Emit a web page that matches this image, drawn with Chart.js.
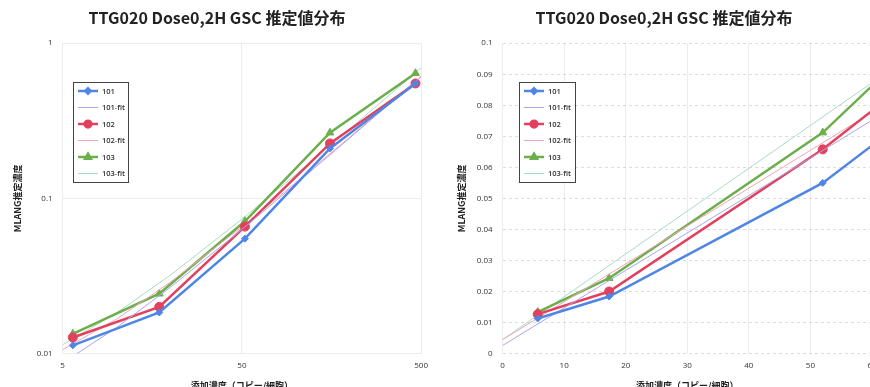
<!DOCTYPE html>
<html>
<head>
<meta charset="utf-8">
<script src="https://cdn.jsdelivr.net/npm/chart.js@4.4.1/dist/chart.umd.min.js"></script>
<style>
html, body { margin: 0; padding: 0; background: #fff; overflow: hidden; width: 870px; height: 387px; }
.panel { position: absolute; top: 0; height: 395px; }
#logPanel { left: 0; width: 435px; }
#linPanel { left: 435px; width: 460px; }
</style>
</head>
<body>
<div class="panel" id="logPanel"><canvas id="logChart"></canvas></div>
<div class="panel" id="linPanel"><canvas id="linChart"></canvas></div>
<script>
// measured concentrations per sample
const doses = [5.7, 17.3, 52, 155, 465];
const s101 = [0.0113, 0.0184, 0.055, 0.21, 0.55];
const s102 = [0.0127, 0.0200, 0.0658, 0.226, 0.55];
const s103 = [0.0134, 0.0243, 0.0712, 0.265, 0.64];

// fitted lines, sampled along the dose axis
const fitDoses = [0, 5, 10, 20, 50, 100, 200, 500];
const fit101 = [0.0026, 0.0087, 0.0147, 0.0268, 0.063, 0.124, 0.245, 0.608];
const fit102 = [0.0045, 0.0106, 0.0167, 0.0289, 0.0655, 0.1265, 0.2485, 0.6145];
const fit103 = [0.0045, 0.0114, 0.0183, 0.0321, 0.0735, 0.1425, 0.2805, 0.6945];

const logXTicks = [5, 50, 500];
const logYTicks = [0.01, 0.1, 1];

const titleText = 'TTG020 Dose0,2H GSC 推定値分布';
const xTitle = '添加濃度（コピー/細胞）';
const yTitle = 'MLANG推定濃度';

const CJK = '"Noto Sans CJK JP", "Open Sans", sans-serif';
const tickFont = { family: '"Open Sans", sans-serif', size: 8 };

function pts(xs, ys, skipZero) {
    const out = [];
    xs.forEach((x, i) => {
        if (skipZero && x <= 0) return;
        out.push({ x: x, y: ys[i] });
    });
    return out;
}

function buildDatasets(isLog) {
    const main = (label, ys, color, style, r) => ({
        label: label,
        data: pts(doses, ys, isLog),
        borderColor: color,
        backgroundColor: color,
        borderWidth: 2.5,
        pointStyle: style,
        pointRadius: r,
        pointBorderWidth: 1,
        tension: 0
    });
    const fit = (label, ys, color) => ({
        label: label,
        data: pts(fitDoses, ys, isLog),
        borderColor: color,
        backgroundColor: color,
        borderWidth: 1,
        pointRadius: 0,
        tension: 0
    });
    return [
        main('101', s101, '#4f86e6', 'rectRot', 3.5),
        fit('101-fit', fit101, '#a9a6e6'),
        main('102', s102, '#e2405c', 'circle', 4.5),
        fit('102-fit', fit102, '#f0a4b8'),
        main('103', s103, '#6cae4c', 'triangle', 4.5),
        fit('103-fit', fit103, '#a8dcc0')
    ];
}

// boxed legend drawn inside the plot area
const boxLegend = {
    id: 'boxLegend',
    afterDatasetsDraw(chart, args, opts) {
        const ctx = chart.ctx;
        const x0 = Math.round(chart.chartArea.left + opts.offsetX);
        const y0 = Math.round(chart.chartArea.top + opts.offsetY);
        const rowH = 16.5;
        const h = rowH * 6 + 1;
        ctx.save();
        ctx.fillStyle = '#fff';
        ctx.fillRect(x0, y0, opts.width, h);
        ctx.strokeStyle = '#444';
        ctx.lineWidth = 1;
        ctx.strokeRect(x0 + 0.5, y0 + 0.5, opts.width, h);
        chart.data.datasets.forEach((ds, i) => {
            const cy = y0 + 9 + i * rowH;
            ctx.strokeStyle = ds.borderColor;
            ctx.fillStyle = ds.borderColor;
            ctx.lineWidth = ds.borderWidth;
            ctx.beginPath();
            ctx.moveTo(x0 + 5, cy);
            ctx.lineTo(x0 + 25, cy);
            ctx.stroke();
            if (ds.pointRadius > 0) {
                Chart.helpers.drawPoint(ctx, {
                    pointStyle: ds.pointStyle, radius: ds.pointRadius * 0.75,
                    borderWidth: 1, rotation: 0
                }, x0 + 15, cy);
            }
            ctx.fillStyle = '#333';
            ctx.font = '600 7.5px "Open Sans", sans-serif';
            ctx.textBaseline = 'middle';
            ctx.fillText(ds.label, x0 + 29, cy + 0.5);
        });
        ctx.restore();
    }
};

const gridStyle = {
    color: 'rgba(150,150,170,0.18)',
    drawTicks: false,
    lineWidth: 1
};

function commonOptions(legendOffsetX, legendWidth) {
    return {
        responsive: true,
        maintainAspectRatio: false,
        animation: false,
        layout: { padding: { left: 8, right: 0, top: 0, bottom: 0 } },
        plugins: {
            legend: { display: false },
            tooltip: { enabled: false },
            title: {
                display: true,
                text: titleText,
                color: '#222',
                font: { family: CJK, size: 16, weight: 'bold' },
                padding: { top: 8, bottom: 16 }
            },
            boxLegend: { offsetX: legendOffsetX, offsetY: 39, width: legendWidth }
        }
    };
}

function axisTitle(text, pad) {
    return {
        display: true,
        text: text,
        color: '#222',
        font: { family: CJK, size: 9, weight: 'bold' },
        padding: pad
    };
}

// log-log panel
const logOpts = commonOptions(10, 55);
logOpts.layout.padding.left = 12;
logOpts.layout.padding.right = 13;
logOpts.scales = {
    x: {
        type: 'logarithmic',
        min: 5, max: 500,
        grid: gridStyle,
        border: { display: false },
        afterBuildTicks: (s) => { s.ticks = logXTicks.map(v => ({ value: v })); },
        ticks: { color: '#333', font: tickFont, padding: 7, callback: (v) => String(v) },
        title: axisTitle(xTitle, { top: 3, bottom: 4 })
    },
    y: {
        type: 'logarithmic',
        min: 0.01, max: 1,
        grid: gridStyle,
        border: { display: false },
        afterBuildTicks: (s) => { s.ticks = logYTicks.map(v => ({ value: v })); },
        ticks: { color: '#333', font: tickFont, padding: 10, callback: (v) => String(v) },
        title: axisTitle(yTitle, { top: 0, bottom: 4 })
    }
};

// linear panel
const linOpts = commonOptions(16, 56);
linOpts.layout.padding.left = 21;
linOpts.layout.padding.right = 23;
linOpts.scales = {
    x: {
        type: 'linear',
        min: 0, max: 60,
        grid: gridStyle,
        border: { display: false },
        ticks: { color: '#333', font: tickFont, padding: 7, stepSize: 10, callback: (v) => String(v) },
        title: axisTitle(xTitle, { top: 3, bottom: 4 })
    },
    y: {
        type: 'linear',
        min: 0, max: 0.1,
        grid: Object.assign({}, gridStyle, { color: 'rgba(140,140,150,0.3)' }),
        border: { display: false, dash: [3, 3] },
        ticks: { color: '#333', font: tickFont, padding: 10, stepSize: 0.01, callback: (v) => String(+v.toFixed(4)) },
        title: axisTitle(yTitle, { top: 0, bottom: 0 })
    }
};

new Chart(document.getElementById('logChart'), {
    type: 'line',
    data: { datasets: buildDatasets(true) },
    options: logOpts,
    plugins: [boxLegend]
});

new Chart(document.getElementById('linChart'), {
    type: 'line',
    data: { datasets: buildDatasets(false) },
    options: linOpts,
    plugins: [boxLegend]
});
</script>
</body>
</html>
